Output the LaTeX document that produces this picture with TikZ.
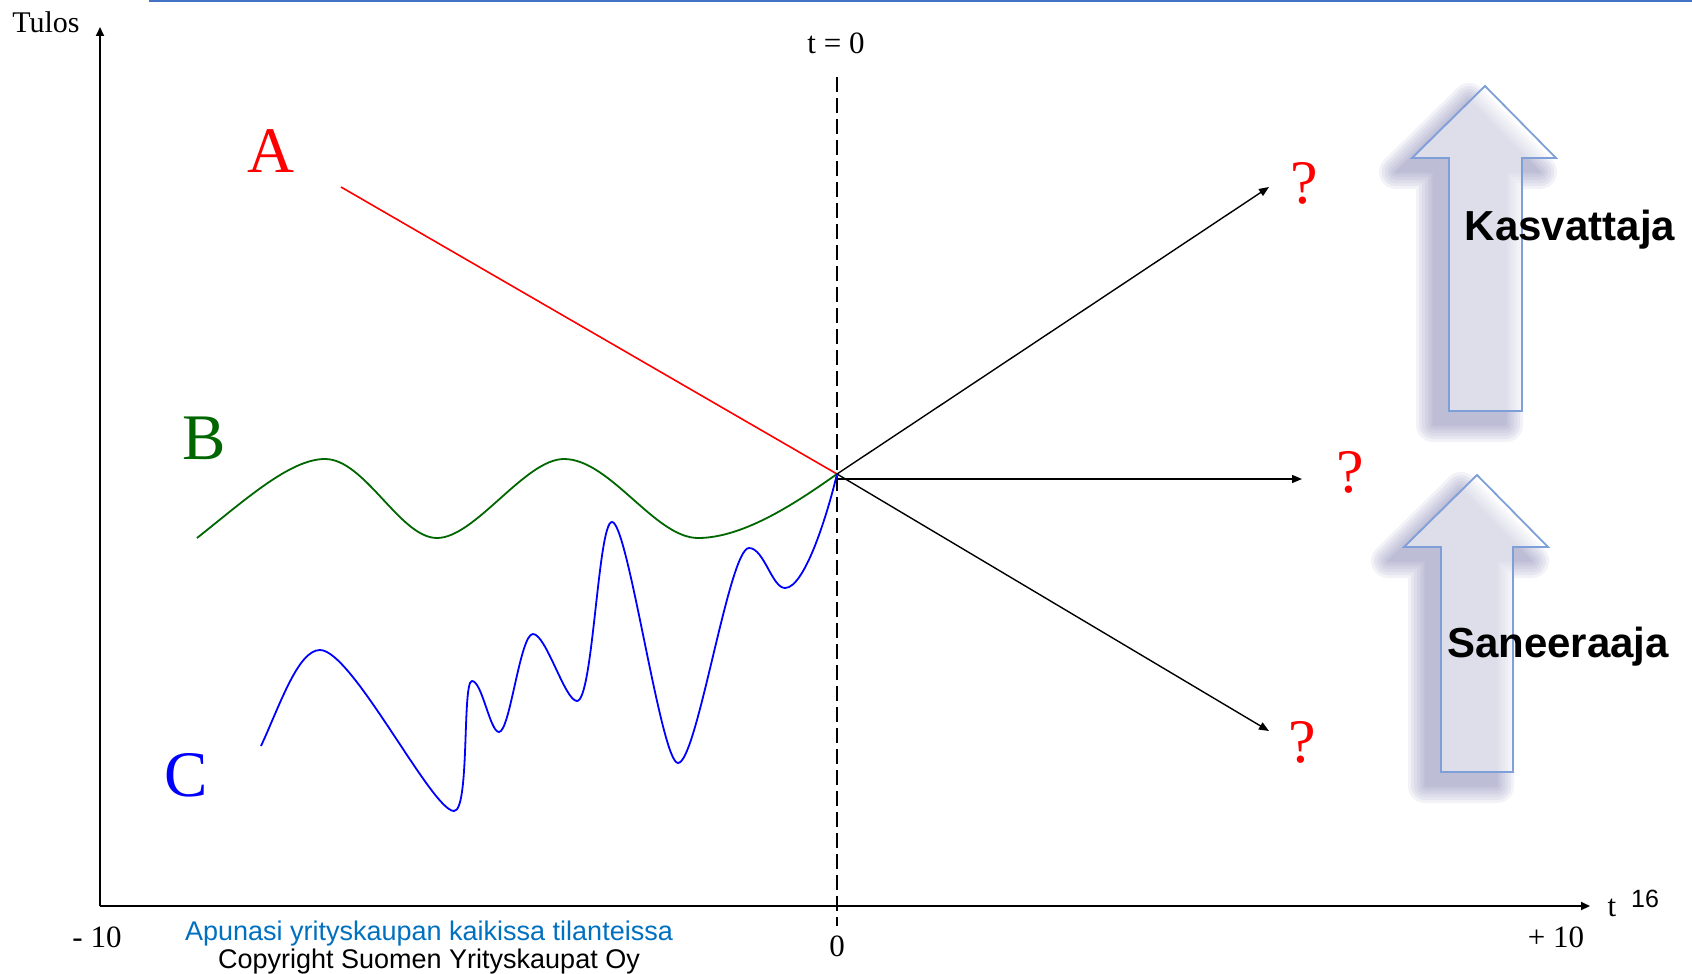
\documentclass[tikz,border=0pt]{standalone}
\usepackage{fontspec}
\setmainfont{Liberation Serif}
\newfontfamily\arialf{Liberation Sans}
\usetikzlibrary{arrows.meta}
\definecolor{topblue}{HTML}{4472C4}
\definecolor{curvegreen}{RGB}{0,102,0}
\definecolor{curveblue}{RGB}{0,0,255}
\definecolor{arrowedge}{HTML}{7F9FD9}
\definecolor{shadowc}{HTML}{8C8CBA}
\definecolor{footblue}{HTML}{0070C0}
\tikzset{
  lbl/.style={inner sep=0pt, outer sep=0pt},
  axlbl/.style={lbl, font=\fontsize{15.5}{18}\selectfont},
  bigletter/.style={lbl, font=\fontsize{32.5}{36}\selectfont},
  qmark/.style={lbl, red, font=\fontsize{31}{34}\selectfont},
  boldlbl/.style={lbl, font=\arialf\bfseries\fontsize{21}{24}\selectfont},
  footlbl/.style={lbl, font=\arialf\fontsize{13.5}{16}\selectfont},
  axis/.style={line width=1pt, -{Triangle[length=4.5pt,width=4pt]}},
  outarrow/.style={line width=0.7pt, -{Triangle[length=5pt,width=4pt]}},
  curve/.style={line width=0.9pt},
  bigarrow/.style={draw=arrowedge, line width=0.9pt, fill=white, fill opacity=0.5, line join=miter},
}
\newcommand\kasarrow{(1485,86) -- (1556,158) -- (1522,158) -- (1522,411) -- (1449,411) -- (1449,158) -- (1412,158) -- cycle}
\newcommand\sanarrow{(1477,475) -- (1548,547) -- (1513,547) -- (1513,772) -- (1441,772) -- (1441,547) -- (1404,547) -- cycle}
\begin{document}
\begin{tikzpicture}[x=0.5pt,y=-0.5pt]
\useasboundingbox (0,0) rectangle (1692,974);
\fill[white] (0,0) rectangle (1692,974);

% top rule
\coordinate (r1) at (149,1.2);
\coordinate (r2) at (1692,1.2);
\draw[topblue, line width=1.1pt] (r1) -- (r2);

% soft shadows of the big arrows
\foreach \w in {34,28,22,16,10,5,1}{
  \begin{scope}[transparency group, opacity=0.11]
    \filldraw[shadowc, line width=\w*0.5pt, line join=round, shift={(-16,14)}] \kasarrow;
  \end{scope}
  \begin{scope}[transparency group, opacity=0.11]
    \filldraw[shadowc, line width=\w*0.5pt, line join=round, shift={(-16,14)}] \sanarrow;
  \end{scope}
}
\path[bigarrow] \kasarrow;
\path[bigarrow] \sanarrow;

% axes
\coordinate (orig) at (100,906);
\coordinate (ytop) at (100,27);
\coordinate (xend) at (1590,906);
\draw[axis] (orig) -- (ytop);
\draw[axis] (orig) -- (xend);

% t = 0 dashed line
\coordinate (d1) at (837,77);
\coordinate (d2) at (837,926);
\draw[line width=1pt, dash pattern=on 7.5pt off 3pt] (d1) -- (d2);

% common point
\coordinate (O) at (837,474);
\coordinate (Oh) at (837,479);

% curve A
\coordinate (a0) at (341,187);
\draw[red, line width=0.8pt] (a0) -- (O);

% curve B
\coordinate (b0) at (197,538);
\draw[curvegreen, curve] (b0)
  .. controls (245,500) and (290,459) .. (325,459)
  .. controls (365,459) and (400,538) .. (437,538)
  .. controls (475,538) and (525,459) .. (564,459)
  .. controls (610,459) and (655,538) .. (698,538)
  .. controls (745,538) and (800,500) .. (O);

% curve C
\coordinate (c0) at (261,746);
\draw[curveblue, curve] (c0)
  .. controls (280,705) and (298,650) .. (320,650)
  .. controls (352,650) and (432,811) .. (454,811)
  .. controls (470,811) and (462,681) .. (472,681)
  .. controls (482,681) and (490,732) .. (499,732)
  .. controls (510,732) and (520,634) .. (533,634)
  .. controls (546,634) and (565,701) .. (577,701)
  .. controls (593,701) and (598,522) .. (612,522)
  .. controls (628,522) and (661,763) .. (678,763)
  .. controls (697,763) and (729,548) .. (749,548)
  .. controls (764,548) and (772,588) .. (785,588)
  .. controls (805,588) and (828,512) .. (O);

% outgoing arrows
\coordinate (q1t) at (1269,187);
\coordinate (q2t) at (1302,479);
\coordinate (q3t) at (1269,731);
\draw[outarrow] (O) -- (q1t);
\draw[outarrow] (Oh) -- (q2t);
\draw[outarrow] (O) -- (q3t);

% labels
\node[axlbl, font=\fontsize{15}{18}\selectfont] (tulos) at (46,22) {Tulos};
\node[axlbl] (t0) at (836,43) {t = 0};
\node[axlbl] (m10) at (97,937) {- 10};
\node[axlbl] (p10) at (1556,937) {+ 10};
\node[axlbl] (zero) at (837,946) {0};
\node[axlbl, anchor=base] (tlab) at (1612,916) {t};
\node[lbl, anchor=base, font=\arialf\fontsize{12.5}{14}\selectfont] (pg) at (1645,907) {16};

\node[bigletter, red] (A) at (271,151) {A};
\node[bigletter, curvegreen] (B) at (204,438) {B};
\node[bigletter, curveblue] (C) at (186,775) {C};

\node[qmark] (q1) at (1304,183) {?};
\node[qmark] (q2) at (1350,472) {?};
\node[qmark] (q3) at (1302,742) {?};

\node[boldlbl, anchor=base] (kas) at (1570,240) {Kasvattaja};
\node[boldlbl, anchor=base] (san) at (1558,657) {Saneeraaja};

\node[footlbl, anchor=base, footblue] (f1) at (429,940) {Apunasi yrityskaupan kaikissa tilanteissa};
\node[footlbl, anchor=base] (f2) at (429,968) {Copyright Suomen Yrityskaupat Oy};
\end{tikzpicture}
\end{document}
